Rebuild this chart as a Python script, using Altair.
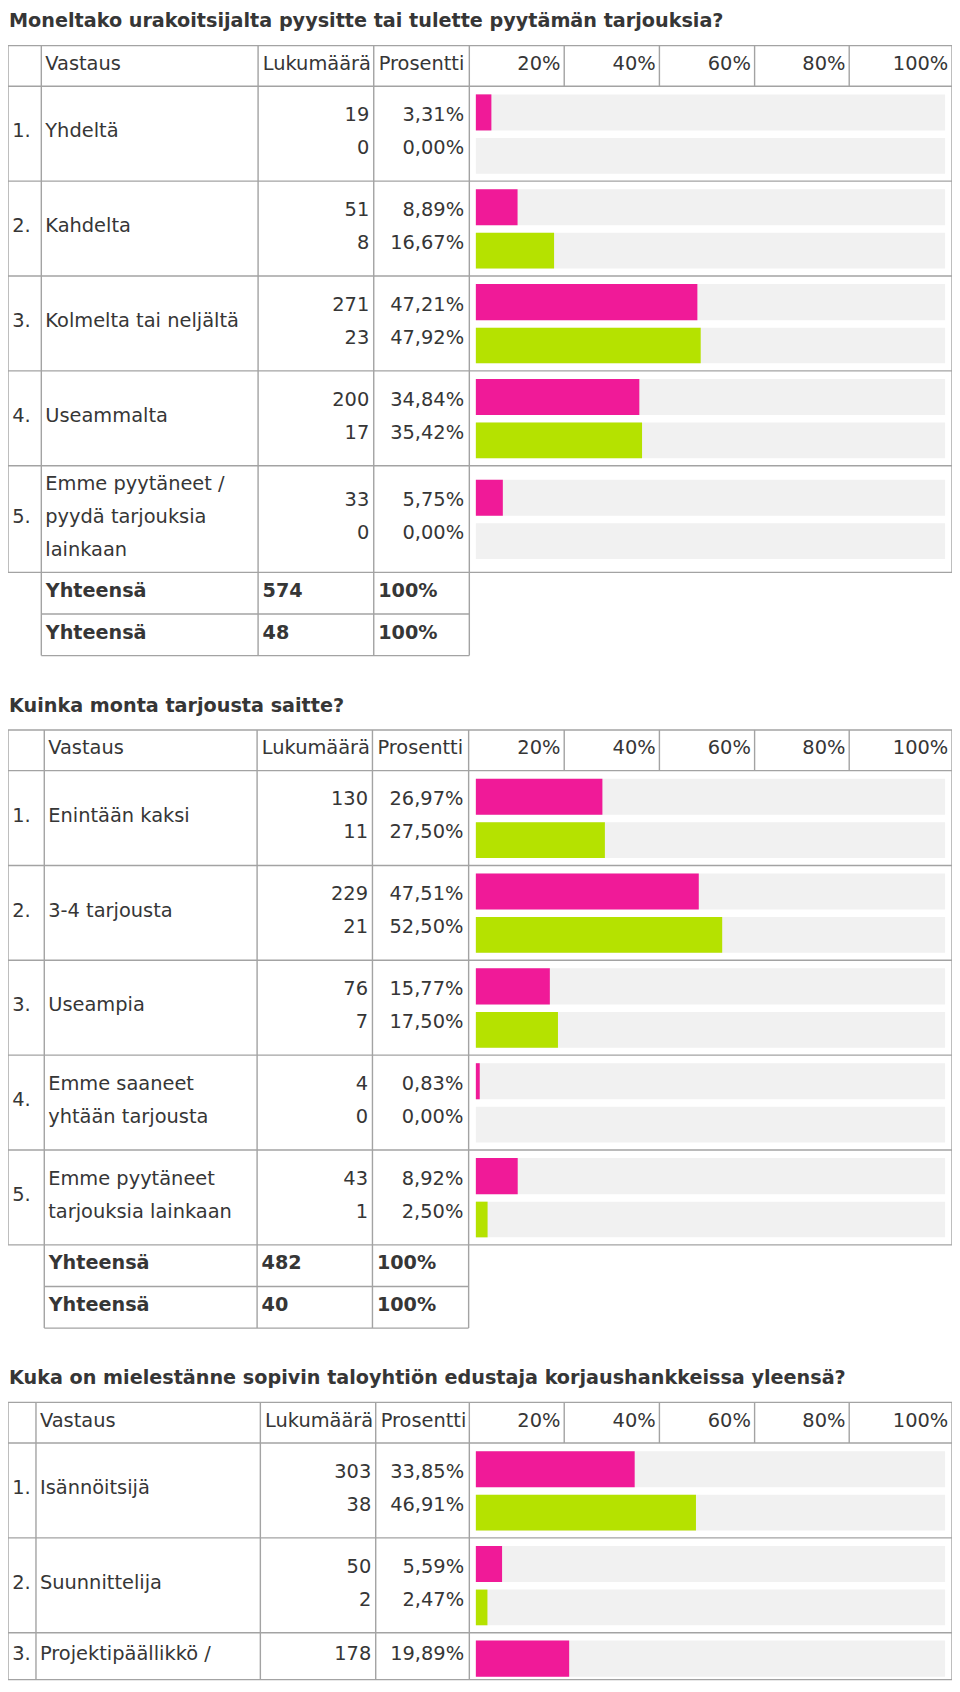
import altair as alt
import pandas as pd

# ---------------- data ----------------
titles = [
    "Moneltako urakoitsijalta pyysitte tai tulette pyytämän tarjouksia?",
    "Kuinka monta tarjousta saitte?",
    "Kuka on mielestänne sopivin taloyhtiön edustaja korjaushankkeissa yleensä?",
]
header_labels = ["Vastaus", "Lukumäärä", "Prosentti"]
tick_labels = ["20%", "40%", "60%", "80%", "100%"]
total_label = "Yhteensä"
total_pct_label = "100%"

s1_labels = [["Yhdeltä"], ["Kahdelta"], ["Kolmelta tai neljältä"], ["Useammalta"],
             ["Emme pyytäneet /", "pyydä tarjouksia", "lainkaan"]]
s1_count_a = [19, 51, 271, 200, 33]
s1_pct_a = [3.31, 8.89, 47.21, 34.84, 5.75]
s1_count_b = [0, 8, 23, 17, 0]
s1_pct_b = [0.00, 16.67, 47.92, 35.42, 0.00]
s1_totals = [574, 48]

s2_labels = [["Enintään kaksi"], ["3-4 tarjousta"], ["Useampia"],
             ["Emme saaneet", "yhtään tarjousta"], ["Emme pyytäneet", "tarjouksia lainkaan"]]
s2_count_a = [130, 229, 76, 4, 43]
s2_pct_a = [26.97, 47.51, 15.77, 0.83, 8.92]
s2_count_b = [11, 21, 7, 0, 1]
s2_pct_b = [27.50, 52.50, 17.50, 0.00, 2.50]
s2_totals = [482, 40]

s3_labels = [["Isännöitsijä"], ["Suunnittelija"], ["Projektipäällikkö /"]]
s3_count_a = [303, 50, 178]
s3_pct_a = [33.85, 5.59, 19.89]
s3_count_b = [38, 2]          # third row is cut off by the page edge
s3_pct_b = [46.91, 2.47]
s3_totals = []

sections = [
    dict(title=titles[0], labels=s1_labels, ca=s1_count_a, pa=s1_pct_a, cb=s1_count_b, pb=s1_pct_b, totals=s1_totals, truncated=False),
    dict(title=titles[1], labels=s2_labels, ca=s2_count_a, pa=s2_pct_a, cb=s2_count_b, pb=s2_pct_b, totals=s2_totals, truncated=False),
    dict(title=titles[2], labels=s3_labels, ca=s3_count_a, pa=s3_pct_a, cb=s3_count_b, pb=s3_pct_b, totals=s3_totals, truncated=True),
]

# ---------------- layout / style ----------------
W, H = 944, 1676
FONT = "DejaVu Sans"
FS = 19.4
FS_B = 19.2
TEXT = "#363636"
LINE = "#a3a3a3"
PINK = "#F01A98"
GREEN = "#B5E200"
TRACK = "#F1F1F1"

COLS = [[4, 37.7, 257, 374, 470.7, 959],
        [4, 40.7, 256, 372.7, 470, 959],
        [4, 32.3, 259.3, 376, 470.7, 959]]
HEAD_INNER = [566.7, 663, 759.3, 855]
TRACK_L, TRACK_R = 477.3, 952
HEAD_H, TOT_H, GAP, TITLE_UP = 41, 42, 75, 18.5
ROW_H = {1: 95.7, 2: 95.7, 3: 107.6}
TRUNC_H = 47.3
LS = 33.3      # line spacing
BOFF = 3.8     # baseline offset from a row centre


def fmt_pct(p):
    return f"{p:.2f}".replace(".", ",") + "%"


rules, rects, tl, tr, tb = [], [], [], [], []


def hline(x1, x2, y):
    rules.append(dict(x1=x1, x2=x2, y1=y, y2=y))


def vline(x, y1, y2):
    rules.append(dict(x1=x, x2=x, y1=y1, y2=y2))


top = 37.0
for si, sec in enumerate(sections):
    c = COLS[si]
    tb.append(dict(x=5, y=top - TITLE_UP, t=sec["title"]))
    hb = top + HEAD_H
    hc = (top + hb) / 2
    hline(c[0], c[5], top)
    hline(c[0], c[5], hb)
    tl.append(dict(x=c[1] + 4, y=hc + BOFF, t=header_labels[0]))
    tl.append(dict(x=c[2] + 4.7, y=hc + BOFF, t=header_labels[1]))
    tl.append(dict(x=c[3] + 5, y=hc + BOFF, t=header_labels[2]))
    rights = HEAD_INNER + [c[5]]
    for k, lab in enumerate(tick_labels):
        tr.append(dict(x=rights[k] - 3.8, y=hc + BOFF, t=lab))
    for xx in HEAD_INNER:
        vline(xx, top, hb)

    y = hb
    n = len(sec["labels"])
    for i in range(n):
        lines = sec["labels"][i]
        trunc = sec["truncated"] and i == n - 1
        h = TRUNC_H if trunc else ROW_H[len(lines)]
        rc = y + h / 2
        tl.append(dict(x=8.3, y=rc + BOFF, t=f"{i + 1}."))
        m = len(lines)
        for j, ln in enumerate(lines):
            tl.append(dict(x=c[1] + 4, y=rc + BOFF + (j - (m - 1) / 2) * LS, t=ln))
        has_b = i < len(sec["pb"])
        vals = [(sec["ca"][i], sec["pa"][i], "a")]
        if has_b:
            vals.append((sec["cb"][i], sec["pb"][i], "b"))
        k = len(vals)
        for j, (cnt, p, ser) in enumerate(vals):
            ty = rc + BOFF + (j - (k - 1) / 2) * LS
            tr.append(dict(x=c[3] - 4.5, y=ty, t=str(cnt)))
            tr.append(dict(x=c[4] - 5.3, y=ty, t=fmt_pct(p)))
        for j, (cnt, p, ser) in enumerate(vals):
            if trunc:
                y1, y2 = y + 7.7, y + 44.3
            else:
                y1, y2 = (rc - 39.7, rc - 3.3) if j == 0 else (rc + 4.3, rc + 40.3)
            rects.append(dict(pct=100, zero=0, y1=y1, y2=y2, series="track"))
            rects.append(dict(pct=p, zero=0, y1=y1, y2=y2, series=ser))
        y += h
        hline(c[0], c[5], y)
    body_bottom = y
    vline(c[0], top, body_bottom)
    vline(c[5], top, body_bottom)
    for tot in sec["totals"]:
        tcen = y + TOT_H / 2
        tb.append(dict(x=c[1] + 4.5, y=tcen + BOFF, t=total_label))
        tb.append(dict(x=c[2] + 4.5, y=tcen + BOFF, t=str(tot)))
        tb.append(dict(x=c[3] + 4.5, y=tcen + BOFF, t=total_pct_label))
        y += TOT_H
        hline(c[1], c[4], y)
    for xx in c[1:5]:
        vline(xx, top, y)
    top = y + GAP

# ---------------- chart ----------------
XS = alt.Scale(domain=[4, 959], range=[0, W], nice=False, zero=False)
YS = alt.Scale(domain=[-1, 1690], range=[0, H], nice=False, zero=False)
sx = W / 955
BS = alt.Scale(domain=[0, 100], range=[(TRACK_L - 4) * sx, (TRACK_R - 4) * sx], nice=False, zero=False)

rule_layer = alt.Chart(pd.DataFrame(rules)).mark_rule(color=LINE, strokeWidth=1.4).encode(
    x=alt.X("x1:Q", scale=XS, axis=None), x2="x2:Q",
    y=alt.Y("y1:Q", scale=YS, axis=None), y2="y2:Q")

rect_layer = alt.Chart(pd.DataFrame(rects)).mark_rect().encode(
    x=alt.X("pct:Q", scale=BS, axis=None), x2="zero:Q",
    y=alt.Y("y1:Q", scale=YS, axis=None), y2="y2:Q",
    color=alt.Color("series:N", scale=alt.Scale(domain=["track", "a", "b"], range=[TRACK, PINK, GREEN]), legend=None))


def text_layer(rows, align, weight, size):
    return alt.Chart(pd.DataFrame(rows)).mark_text(
        align=align, baseline="alphabetic", font=FONT, fontSize=size, fontWeight=weight, color=TEXT
    ).encode(x=alt.X("x:Q", scale=XS, axis=None), y=alt.Y("y:Q", scale=YS, axis=None), text="t:N")


chart = alt.layer(
    rect_layer, rule_layer,
    text_layer(tl, "left", "normal", FS),
    text_layer(tr, "right", "normal", FS),
    text_layer(tb, "left", "bold", FS_B),
).resolve_scale(x="independent").properties(
    width=W, height=H, padding=0, autosize=alt.AutoSizeParams(type="none"), background="white"
).configure_view(stroke=None)

chart.save("out.html", embed_options={"renderer": "svg", "actions": False})
